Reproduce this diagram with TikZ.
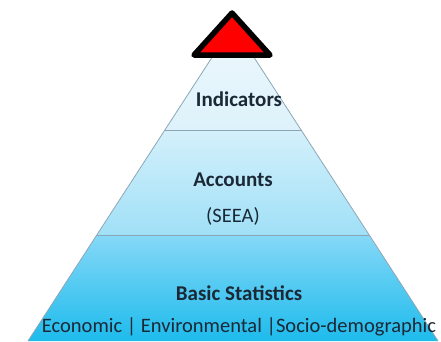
\documentclass[tikz,border=0pt]{standalone}
\usepackage{fontspec}
\setmainfont{Carlito}
\definecolor{t1}{HTML}{EEF8FD}
\definecolor{t2}{HTML}{DDF2FB}
\definecolor{m1}{HTML}{D4F0FB}
\definecolor{m2}{HTML}{A0E0F7}
\definecolor{b1}{HTML}{86D8F7}
\definecolor{b2}{HTML}{1DBBEC}
\definecolor{edge}{HTML}{8AA6B6}
\definecolor{ink}{HTML}{1B2836}
\begin{document}
\begin{tikzpicture}[x=1pt,y=1pt,
  layer/.style={draw=edge, line width=0.8pt},
  lbl/.style={text=ink, font=\fontsize{21}{24}\selectfont\bfseries, inner sep=0pt},
  sub/.style={text=ink, font=\fontsize{20.5}{24}\selectfont, inner sep=0pt}]
\useasboundingbox (0,0) rectangle (441,341);
\coordinate (apex) at (233,316);
\coordinate (l1) at (165,211); \coordinate (r1) at (301,211);
\coordinate (l2) at (97,106);  \coordinate (r2) at (369,106);
\coordinate (l3) at (28,0);    \coordinate (r3) at (438,0);
\shade[top color=t1, bottom color=t2] (apex) -- (r1) -- (l1) -- cycle;
\shade[top color=m1, bottom color=m2] (l1) -- (r1) -- (r2) -- (l2) -- cycle;
\shade[top color=b1, bottom color=b2] (l2) -- (r2) -- (r3) -- (l3) -- cycle;
\draw[layer] (l3) -- (apex) -- (r3);
\draw[layer] (l1) -- (r1);
\draw[layer] (l2) -- (r2);
\node[lbl] (ind) at (239,242) {Indicators};
\node[lbl] (acc) at (233,161) {Accounts};
\node[sub] (seea) at (233,125) {(SEEA)};
\node[lbl] (bas) at (239,48) {Basic Statistics};
\node[sub] (eco) at (239,14) {Economic | Environmental |Socio-demographic};
\draw[line width=5.5pt, line join=round, fill=red] (232,328) -- (270,286) -- (194,286) -- cycle;
\end{tikzpicture}
\end{document}
